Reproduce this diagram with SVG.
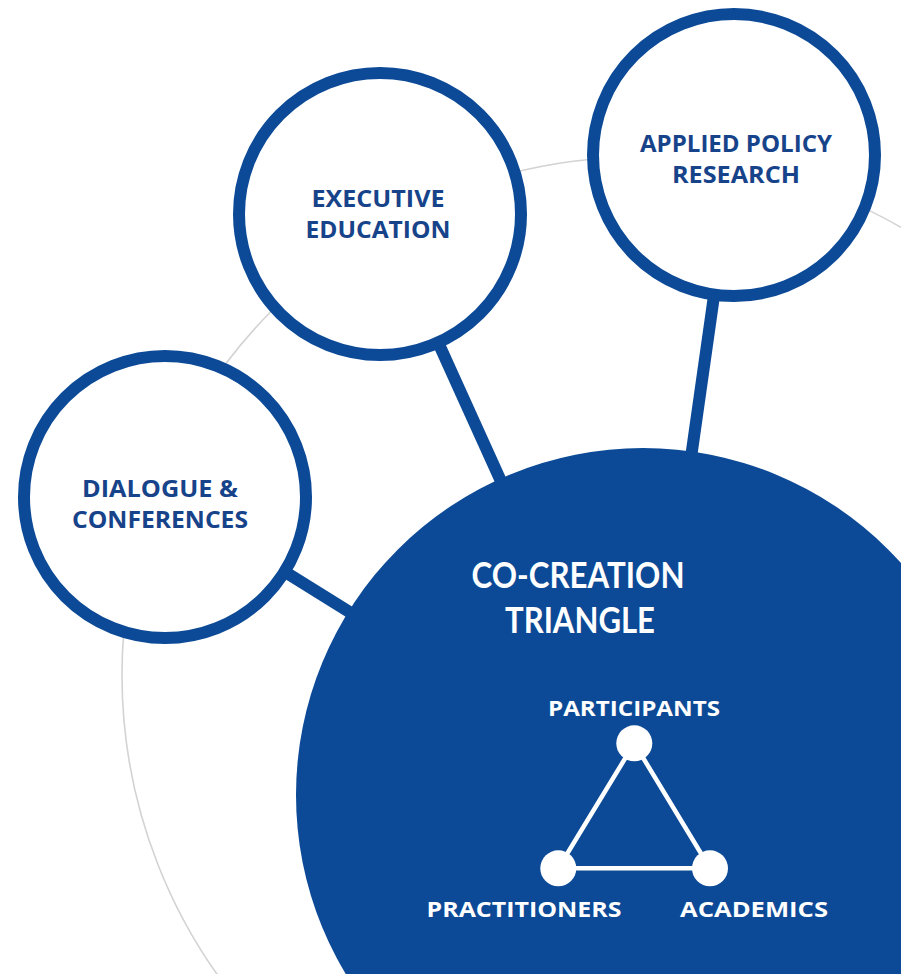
<svg xmlns="http://www.w3.org/2000/svg" width="901" height="974" viewBox="0 0 901 974">
  <style>
    .ring { fill: none; stroke: #d3d3d3; stroke-width: 1.6; }
    .conn { stroke: #0c4a97; stroke-width: 12; stroke-linecap: butt; }
    .node { fill: #ffffff; stroke: #0c4a97; stroke-width: 12; }
    .lbl { font-family: "Open Sans", "Liberation Sans", sans-serif; font-weight: 700; font-size: 24px; fill: #17438a; text-anchor: middle; }
    .big { fill: #0c4a97; }
    .bigtxt { font-family: Lato, "Open Sans", "Liberation Sans", sans-serif; font-weight: 700; font-size: 37px; fill: #ffffff; text-anchor: middle; }
    .subtxt { font-family: "Open Sans", "Liberation Sans", sans-serif; font-weight: 700; font-size: 22px; fill: #ffffff; text-anchor: middle; }
    .tri { stroke: #ffffff; stroke-width: 4.5; fill: none; }
    .dot { fill: #ffffff; }
  </style>
  <rect width="901" height="974" fill="#ffffff"/>
  <circle class="ring" cx="640" cy="675" r="518"/>
  <g id="connectors">
    <line class="conn" x1="714.3" y1="293.6" x2="690.9" y2="458.4"/>
    <line class="conn" x1="437.7" y1="341.5" x2="502.8" y2="485.3"/>
    <line class="conn" x1="283.8" y1="571.1" x2="354.5" y2="615.1"/>
  </g>
  <g id="co-creation-triangle">
    <circle class="big" cx="643" cy="795" r="347"/>
    <text class="bigtxt" x="578" y="588" textLength="213" lengthAdjust="spacingAndGlyphs">CO-CREATION</text>
    <text class="bigtxt" x="580" y="633" textLength="150" lengthAdjust="spacingAndGlyphs">TRIANGLE</text>
    <g id="triangle-edges">
      <polygon class="tri" points="634.3,743.3 558.3,868.3 710,868.3"/>
    </g>
    <g id="participants">
      <circle class="dot" cx="634.3" cy="743.3" r="18"/>
      <text class="subtxt" x="634" y="716" textLength="172" lengthAdjust="spacingAndGlyphs">PARTICIPANTS</text>
    </g>
    <g id="practitioners">
      <circle class="dot" cx="558.3" cy="868.3" r="18"/>
      <text class="subtxt" x="524" y="917" textLength="195" lengthAdjust="spacingAndGlyphs">PRACTITIONERS</text>
    </g>
    <g id="academics">
      <circle class="dot" cx="710" cy="868.3" r="18"/>
      <text class="subtxt" x="754" y="917" textLength="148" lengthAdjust="spacingAndGlyphs">ACADEMICS</text>
    </g>
  </g>
  <g id="dialogue-conferences">
    <circle class="node" cx="165" cy="497" r="141"/>
    <text class="lbl" x="160" y="497" textLength="156" lengthAdjust="spacingAndGlyphs">DIALOGUE &amp;</text>
    <text class="lbl" x="160" y="528" textLength="176" lengthAdjust="spacingAndGlyphs">CONFERENCES</text>
  </g>
  <g id="executive-education">
    <circle class="node" cx="380" cy="214" r="141"/>
    <text class="lbl" x="378" y="207" textLength="133" lengthAdjust="spacingAndGlyphs">EXECUTIVE</text>
    <text class="lbl" x="378" y="238" textLength="145" lengthAdjust="spacingAndGlyphs">EDUCATION</text>
  </g>
  <g id="applied-policy-research">
    <circle class="node" cx="734" cy="155" r="141"/>
    <text class="lbl" x="736" y="152" textLength="192" lengthAdjust="spacingAndGlyphs">APPLIED POLICY</text>
    <text class="lbl" x="736" y="183" textLength="128" lengthAdjust="spacingAndGlyphs">RESEARCH</text>
  </g>
</svg>
